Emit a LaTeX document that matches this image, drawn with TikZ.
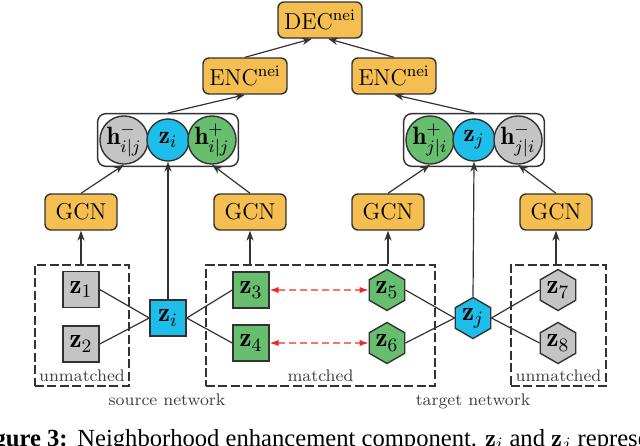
\RequirePackage{fix-cm}
\documentclass[tikz,border=0pt]{standalone}
\usepackage{fontspec}
\newfontfamily\capfont{Liberation Serif}
\usetikzlibrary{arrows.meta,shapes.geometric,fit}

\definecolor{encorange}{RGB}{245,190,80}
\definecolor{nodeblue}{RGB}{30,190,235}
\definecolor{nodegreen}{RGB}{102,190,110}
\definecolor{nodegray}{RGB}{196,196,196}
\definecolor{linkred}{RGB}{238,40,40}
\definecolor{edge}{RGB}{50,50,50}

\tikzset{
  module/.style={draw=edge, fill=encorange, rounded corners=3pt, line width=0.7pt,
    minimum width=42pt, minimum height=18pt, inner sep=0pt,
    font=\fontsize{11.5}{13}\selectfont},
  vec/.style={circle, draw=edge, line width=0.7pt, minimum size=21pt, inner sep=0pt,
    font=\fontsize{12.5}{14}\selectfont},
  sq/.style={rectangle, draw=edge, line width=0.7pt, minimum size=18pt, inner sep=0pt,
    font=\fontsize{13.5}{15}\selectfont},
  hex/.style={regular polygon, regular polygon sides=6, shape border rotate=30,
    draw=edge, line width=0.7pt, minimum size=20.5pt, inner sep=0pt,
    font=\fontsize{13.5}{15}\selectfont},
  grp/.style={draw=edge, rounded corners=4pt, line width=0.7pt, inner sep=0.8pt},
  dbox/.style={draw=edge, dash pattern=on 4.5pt off 1.7pt, line width=0.6pt,
    minimum height=60.5pt, inner sep=0pt},
  lbl/.style={text=black!75, inner sep=0pt, font=\fontsize{8.4}{10}\selectfont},
  link/.style={draw=edge, line width=0.6pt},
  flow/.style={link, -{Stealth[length=5pt,width=3.6pt]}},
  match/.style={draw=linkred, line width=0.6pt, dash pattern=on 3.5pt off 2pt,
    {Latex[length=4.5pt,width=3.2pt]}-{Latex[length=4.5pt,width=3.2pt]}},
  captext/.style={inner sep=0pt, font=\capfont\fontsize{12.3}{14}\selectfont},
}

\begin{document}
\begin{tikzpicture}[x=0.5pt,y=-0.5pt]
\useasboundingbox (0,0) rectangle (640,445);
\clip (0,0) rectangle (640,445);

% decoder and encoders
\node[module] (dec) at (320,20) {$\mathrm{DEC}^{\mathrm{nei}}$};
\node[module] (encs) at (245,76) {$\mathrm{ENC}^{\mathrm{nei}}$};
\node[module] (enct) at (394,76) {$\mathrm{ENC}^{\mathrm{nei}}$};

\foreach \n/\x in {1/81,2/250,3/388,4/556}{
  \node[module, minimum width=36pt] (gcn\n) at (\x,212) {GCN};
}

% embeddings after aggregation
\node[vec, fill=nodegray] (hsm) at (124,140) {$\mathbf{h}^{-}_{i|j}$};
\node[vec, fill=nodeblue] (zsc) at (168,140) {$\mathbf{z}_i$};
\node[vec, fill=nodegreen] (hsp) at (212,140) {$\mathbf{h}^{+}_{i|j}$};
\node[grp, fit=(hsm)(zsc)(hsp)] (grps) {};

\node[vec, fill=nodegreen] (htp) at (430,140) {$\mathbf{h}^{+}_{j|i}$};
\node[vec, fill=nodeblue] (ztc) at (474,140) {$\mathbf{z}_j$};
\node[vec, fill=nodegray] (htm) at (518,140) {$\mathbf{h}^{-}_{j|i}$};
\node[grp, fit=(htp)(ztc)(htm)] (grpt) {};

% neighbour groups
\node[dbox, minimum width=47pt] (srcun) at (82,325.5) {};
\node[dbox, minimum width=114.5pt] (mat) at (320.5,325.5) {};
\node[dbox, minimum width=47.5pt] (tgtun) at (558.5,325.5) {};

\node[lbl, above=2.5pt] at (srcun.south) {unmatched};
\node[lbl, above=2.5pt] at (mat.south) {matched};
\node[lbl, above=2.5pt] at (tgtun.south) {unmatched};
\node[lbl, anchor=base] (srcnet) at (167,405) {source network};
\node[lbl, anchor=base] (tgtnet) at (473,405) {target network};

% source network
\node[sq, fill=nodegray] (z1) at (81,289.5) {$\mathbf{z}_1$};
\node[sq, fill=nodegray] (z2) at (81,344) {$\mathbf{z}_2$};
\node[sq, fill=nodeblue] (zi) at (168,318) {$\mathbf{z}_i$};
\node[sq, fill=nodegreen] (z3) at (251,290) {$\mathbf{z}_3$};
\node[sq, fill=nodegreen] (z4) at (251,343) {$\mathbf{z}_4$};

% target network
\node[hex, fill=nodegreen] (z5) at (387,290) {$\mathbf{z}_5$};
\node[hex, fill=nodegreen] (z6) at (387,343) {$\mathbf{z}_6$};
\node[hex, fill=nodeblue] (zj) at (473,318) {$\mathbf{z}_j$};
\node[hex, fill=nodegray] (z7) at (558,290) {$\mathbf{z}_7$};
\node[hex, fill=nodegray] (z8) at (558,343) {$\mathbf{z}_8$};

\foreach \a in {z1,z2}{
  \draw[link] (\a.east) -- (zi.west);
}
\foreach \a in {z3,z4}{
  \draw[link] (\a.west) -- (zi.east);
}
\foreach \a in {z5,z6}{
  \draw[link] (\a.east) -- (zj.west);
}
\foreach \a in {z7,z8}{
  \draw[link] (\a.west) -- (zj.east);
}
\draw[match] (z3.east) -- (z5.west);
\draw[match] (z4.east) -- (z6.west);

% upward flow
\draw[flow] (zi.north) -- (zsc.south);
\draw[flow] (zj.north) -- (ztc.south);
\draw[flow] (gcn1 |- srcun.north) -- (gcn1.south);
\draw[flow] (gcn2 |- mat.north) -- (gcn2.south);
\draw[flow] (gcn3 |- mat.north) -- (gcn3.south);
\draw[flow] (gcn4 |- tgtun.north) -- (gcn4.south);
\draw[flow] (gcn1.north) -- (hsm.south);
\draw[flow] (gcn2.north) -- (hsp.south);
\draw[flow] (gcn3.north) -- (htp.south);
\draw[flow] (gcn4.north) -- (htm.south);
\draw[flow] (grps.north) -- (encs.south);
\draw[flow] (grpt.north) -- (enct.south);
\draw[flow] (encs.north) -- ([xshift=-4pt]dec.south);
\draw[flow] (enct.north) -- ([xshift=4pt]dec.south);

% caption, cut by the frame
\node[captext, anchor=base east] (capnum) at (68,446) {\textbf{Figure 3:}};
\node[captext, anchor=base west] (captxt) at (77,446)
  {Neighborhood enhancement component. $\mathbf{z}_i$ and $\mathbf{z}_j$ represent};
\end{tikzpicture}
\end{document}
